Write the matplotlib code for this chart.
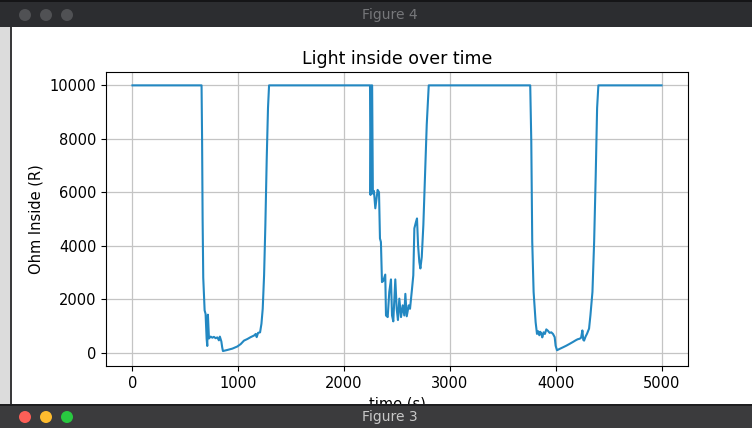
import matplotlib
matplotlib.use("Agg")
import matplotlib.pyplot as plt
from matplotlib.patches import Rectangle, Circle

# ---- data ----
time_s = [0, 653, 658, 663, 669, 682, 691, 701, 707, 713, 723, 739, 755, 770, 786, 802,
          817, 826, 840, 848, 855, 897, 944, 991, 1023, 1054, 1086, 1117, 1149, 1165,
          1174, 1187, 1206, 1219, 1231, 1244, 1256, 1269, 1281, 1291,
          2245, 2250, 2258, 2265, 2272, 2282, 2295, 2317, 2330, 2339, 2348, 2358, 2370,
          2389, 2396, 2412, 2427, 2443, 2453, 2465, 2484, 2497, 2509, 2522, 2538, 2554,
          2569, 2579, 2592, 2611, 2623, 2642, 2654, 2664, 2680, 2689, 2699, 2711, 2721,
          2734, 2749, 2765, 2781, 2800,
          3759, 3769, 3778, 3791, 3810, 3823, 3835, 3845, 3854, 3863, 3873, 3885, 3898,
          3911, 3926, 3942, 3958, 3974, 3990, 3999, 4012, 4037, 4069, 4100, 4132, 4163,
          4188, 4207, 4226, 4240, 4252, 4260, 4268, 4282, 4296, 4315, 4328, 4347, 4363,
          4378, 4391, 4403, 5000]
ohm_inside = [10000, 10000, 8000, 5000, 2800, 1580, 1450, 520, 250, 1420, 530, 600, 560,
              590, 540, 570, 460, 600, 420, 200, 60, 100, 150, 230, 320, 450, 510, 580,
              640, 700, 580, 740, 760, 1080, 1640, 2900, 4770, 7280, 9160, 10000,
              10000, 5900, 10000, 10000, 5950, 6050, 5400, 6090, 6000, 4270, 4140, 2640,
              2680, 2920, 1390, 1330, 2270, 2740, 1390, 1170, 2740, 1640, 1220, 2020, 1330,
              1770, 1390, 2200, 1360, 1770, 1640, 2390, 2890, 4650, 4900, 5020, 4020, 3390,
              3150, 3580, 4770, 6650, 8530, 10000,
              10000, 7900, 4150, 2270, 1140, 700, 800, 650, 780, 720, 570, 760, 700, 870,
              820, 740, 760, 700, 580, 260, 90, 140, 200, 260, 330, 400, 460, 500, 520,
              560, 830, 480, 450, 600, 710, 900, 1400, 2270, 4150, 6650, 9150, 10000, 10000]

title = "Light inside over time"
x_label = "time (s)"
y_label = "Ohm Inside (R)"
x_ticks = [0, 1000, 2000, 3000, 4000, 5000]
y_ticks = [0, 2000, 4000, 6000, 8000, 10000]

W, H = 752, 428
fig = plt.figure(figsize=(W / 100, H / 100), dpi=100)
fig.patch.set_facecolor("white")

ax = fig.add_axes([106 / W, 1 - 366 / H, (688 - 106) / W, (366 - 72) / H])
ax.plot(time_s, ohm_inside, color="#2388c2", linewidth=1.5)
ax.set_xlim(-250, 5250)
ax.set_ylim(-500, 10500)
ax.set_xticks(x_ticks)
ax.set_yticks(y_ticks)
ax.grid(True, color="#c4c4c4", linewidth=0.9)
ax.set_axisbelow(True)
ax.set_title(title, fontsize=12.5)
ax.set_xlabel(x_label, fontsize=10.5)
ax.set_ylabel(y_label, fontsize=10.5)
ax.tick_params(labelsize=10.5)


def fx(px):
    return px / W


def fy(py):
    return 1 - py / H


def rect(x0, y0, x1, y1, color, z=10):
    fig.patches.append(Rectangle((fx(x0), fy(y1)), fx(x1) - fx(x0), fy(y0) - fy(y1),
                                 transform=fig.transFigure, facecolor=color,
                                 edgecolor="none", zorder=z))


# window chrome (screenshot framing)
rect(0, 27, 10, 405, "#dcdcdc")
rect(10, 27, 12, 405, "#3a3a3c")
rect(0, 0, W, 27, "#2c2d30")
rect(0, 0, W, 2, "#151517", z=11)
rect(0, 405, W, H, "#3b3b3d")
rect(0, 404, W, 406, "#1e1e20", z=11)

for cx in (25, 46, 67):
    fig.patches.append(Circle((cx, H - 15), 6, transform=None, facecolor="#505154",
                              edgecolor="none", zorder=12))
for cx, col in ((25, "#fe5f57"), (46, "#febc2e"), (67, "#28c840")):
    fig.patches.append(Circle((cx, H - 417), 6, transform=None, facecolor=col,
                              edgecolor="none", zorder=12))

fig.text(fx(390), fy(15), "Figure 4", ha="center", va="center", color="#76777a",
         fontsize=10, zorder=13)
fig.text(fx(390), fy(417), "Figure 3", ha="center", va="center", color="#c8c8c8",
         fontsize=10, zorder=13)

fig.savefig("out.png", dpi=100)
